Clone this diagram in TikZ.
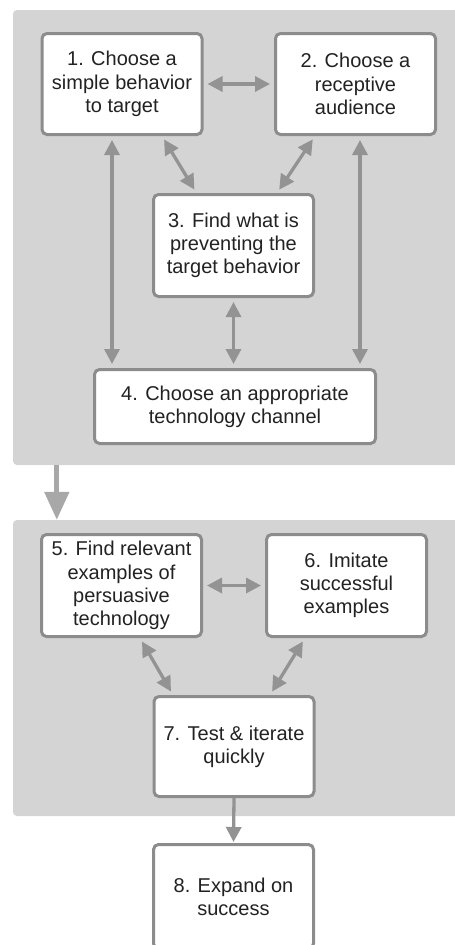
\documentclass[tikz,border=0pt]{standalone}
\usepackage{fontspec}
\setmainfont{Liberation Sans}
\usepackage{tikz}
\usetikzlibrary{arrows.meta, calc}
\definecolor{panelgray}{HTML}{D4D4D4}
\definecolor{edgegray}{HTML}{8C8C8C}
\definecolor{arrowgray}{HTML}{939393}
\definecolor{biggray}{HTML}{A8A8A8}
\definecolor{ink}{HTML}{222222}
\tikzstyle{phase}  = [rectangle, rounded corners=4pt, fill=panelgray, draw=none, inner sep=0pt]
\tikzstyle{stage}  = [rectangle, rounded corners=5pt, draw=edgegray, line width=3pt, fill=white,
                      minimum width=160pt, minimum height=101pt, inner sep=0pt, align=center,
                      text=ink, font=\fontsize{20}{23.3}\selectfont]
\tikzstyle{link}   = [{Triangle[length=15pt, width=15pt]}-{Triangle[length=15pt, width=15pt]},
                      line width=3.3pt, draw=arrowgray, shorten <=4pt, shorten >=4pt]
\tikzstyle{onward} = [-{Triangle[length=15pt, width=15pt]}, line width=3.3pt, draw=arrowgray]
\tikzstyle{bigstep}= [-{Triangle[length=28pt, width=24pt]}, line width=5pt, draw=biggray]

\begin{document}
\begin{tikzpicture}[x=1pt, y=-1pt]
    \path[use as bounding box, clip] (0,0) rectangle (455,945);

    % the two grey phases
    \node[phase, minimum width=447pt, minimum height=455pt] (upper) at (236.5,237.5) {};
    \node[phase, minimum width=447pt, minimum height=296pt] (lower) at (236.5,668) {};

    % steps
    \node[stage] (s1) at (122,84)    {1. Choose a\\simple behavior\\to target};
    \node[stage] (s2) at (355.5,84)  {2. Choose a\\receptive\\audience};
    \node[stage, minimum height=102pt] (s3) at (233.5,245.5) {3. Find what is\\preventing the\\target behavior};
    \node[stage, minimum width=281pt, minimum height=74pt] (s4) at (235,406.5)
         {4. Choose an appropriate\\technology channel};
    \node[stage, minimum height=102pt] (s5) at (121.5,585.5) {5. Find relevant\\examples of\\persuasive\\technology};
    \node[stage, minimum height=102pt] (s6) at (346.5,585.5) {6. Imitate\\successful\\examples};
    \node[stage, minimum height=100pt] (s7) at (234,746.5)   {7. Test \& iterate\\quickly};
    \node[stage, minimum height=104pt] (s8) at (233.5,896.5) {8. Expand on\\success};

    % links in the first phase
    \draw[link] (s1.east) -- (s2.west);
    \draw[link] ([xshift=-10pt]s1.south) -- ([xshift=-10pt]s1.south |- s4.north);
    \draw[link] ([xshift=4.5pt]s2.south) -- ([xshift=4.5pt]s2.south |- s4.north);
    \draw[link] ([xshift=40pt]s1.south) -- ([xshift=-37pt]s3.north);
    \draw[link] ([xshift=-40.5pt]s2.south) -- ([xshift=43.5pt]s3.north);
    \draw[link] (s3.south) -- (s3.south |- s4.north);

    % from one phase to the next
    \draw[bigstep] ([xshift=44pt]upper.south west) -- ([xshift=44pt]upper.south west |- lower.north);

    % links in the second phase
    \draw[link] (s5.east) -- (s6.west);
    \draw[link] ([xshift=18.5pt]s5.south) -- ([xshift=-61pt]s7.north);
    \draw[link] ([xshift=-41.5pt]s6.south) -- ([xshift=36pt]s7.north);
    \draw[onward, shorten >=1pt] (s7.south) -- (s8.north);
  \end{tikzpicture}
\end{document}
